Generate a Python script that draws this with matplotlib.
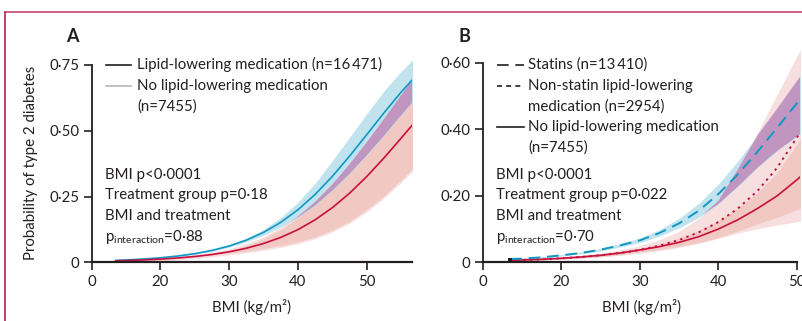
import numpy as np
import matplotlib
matplotlib.use("Agg")
import matplotlib.pyplot as plt
from matplotlib.lines import Line2D

plt.rcParams["font.family"] = ["Lato", "DejaVu Sans"]
plt.rcParams["mathtext.fontset"] = "custom"
plt.rcParams["mathtext.rm"] = "Lato"

# ---- data ----
# Panel A: lipid-lowering medication vs none
bmi_a = [13.5, 15, 17.5, 20, 22.5, 25, 27.5, 30, 32.5, 35, 37.5, 40,
         42.5, 45, 47.5, 50, 52.5, 55, 57.5]
lipid_a = [0.0073, 0.0089, 0.0124, 0.0172, 0.0238, 0.0329, 0.0452, 0.062,
           0.0843, 0.1138, 0.1517, 0.1996, 0.2579, 0.3263, 0.403, 0.4848,
           0.5673, 0.6463, 0.718]
lipid_a_hi = [0.0092, 0.0108, 0.0146, 0.0196, 0.0264, 0.0358, 0.0487, 0.0667,
              0.0912, 0.1249, 0.1697, 0.2284, 0.300, 0.386, 0.4743, 0.5644,
              0.6504, 0.7257, 0.790]
lipid_a_lo = [0.0057, 0.0070, 0.0102, 0.0148, 0.0212, 0.0300, 0.0417, 0.0573,
              0.0774, 0.1027, 0.1337, 0.1708, 0.2158, 0.272, 0.3356, 0.4059,
              0.4803, 0.558, 0.633]
none_a = [0.0055, 0.0066, 0.0089, 0.0121, 0.0163, 0.0220, 0.0297, 0.0400,
          0.0535, 0.0713, 0.0945, 0.1241, 0.1614, 0.2074, 0.2622, 0.3256,
          0.3960, 0.4713, 0.5477]
none_a_hi = [0.0070, 0.0084, 0.0111, 0.0149, 0.0199, 0.0266, 0.0357, 0.048,
             0.0675, 0.0933, 0.1285, 0.1741, 0.2294, 0.2954, 0.3722, 0.4556,
             0.5440, 0.6343, 0.7237]
none_a_lo = [0.0040, 0.0048, 0.0067, 0.0093, 0.0127, 0.0174, 0.0237, 0.032,
             0.0395, 0.0493, 0.0605, 0.0741, 0.0934, 0.1194, 0.1522, 0.1956,
             0.2480, 0.3083, 0.3717]

# Panel B: statins / non-statin / none
bmi_b = [13.5, 15, 17.5, 20, 22.5, 25, 27.5, 30, 32.5, 35, 37.5, 40,
         42.5, 45, 47.5, 50, 52.5]
statin_b = [0.010, 0.011, 0.015, 0.021, 0.028, 0.038, 0.051, 0.066, 0.088,
            0.117, 0.155, 0.205, 0.265, 0.333, 0.405, 0.478, 0.55]
statin_b_hi = [0.012, 0.013, 0.017, 0.023, 0.031, 0.042, 0.056, 0.073, 0.098,
               0.132, 0.177, 0.235, 0.305, 0.382, 0.462, 0.545, 0.625]
statin_b_lo = [0.008, 0.009, 0.013, 0.019, 0.025, 0.034, 0.046, 0.059, 0.079,
               0.103, 0.135, 0.175, 0.228, 0.285, 0.335, 0.378, 0.42]
nonstatin_b = [0.006, 0.007, 0.009, 0.012, 0.016, 0.021, 0.028, 0.037, 0.050,
               0.067, 0.090, 0.121, 0.162, 0.215, 0.285, 0.375, 0.46]
nonstatin_b_hi = [0.009, 0.010, 0.012, 0.016, 0.021, 0.028, 0.037, 0.050,
                  0.068, 0.093, 0.132, 0.185, 0.28, 0.39, 0.505, 0.62, 0.735]
nonstatin_b_lo = [0.004, 0.005, 0.007, 0.009, 0.012, 0.016, 0.021, 0.027,
                  0.035, 0.045, 0.057, 0.072, 0.088, 0.101, 0.112, 0.122, 0.13]
none_b = [0.006, 0.007, 0.009, 0.012, 0.016, 0.021, 0.028, 0.037, 0.047,
          0.060, 0.077, 0.100, 0.128, 0.162, 0.200, 0.248, 0.30]
none_b_hi = [0.0075, 0.0087, 0.011, 0.0145, 0.019, 0.025, 0.033, 0.043, 0.056,
             0.073, 0.096, 0.126, 0.163, 0.21, 0.27, 0.355, 0.44]
none_b_lo = [0.0045, 0.0054, 0.007, 0.0097, 0.013, 0.017, 0.023, 0.031, 0.039,
             0.048, 0.059, 0.075, 0.094, 0.116, 0.135, 0.158, 0.18]

xticks = [10, 20, 30, 40, 50]
xticklabels = ["0", "20", "30", "40", "50"]
yticks_a = [0, 0.25, 0.50, 0.75]
yticklabels_a = ["0", "0·25", "0·50", "0·75"]
yticks_b = [0, 0.20, 0.40, 0.60]
yticklabels_b = ["0", "0·20", "0·40", "0·60"]

# ---- colours ----
INK = "#231f20"
BLUE = "#1297c4"
RED = "#c8103f"
LBLUE = "#c0e3ee"
SALMON = "#f1c9c2"
LPINK = "#f7dfdf"
PURPLE = "#c096c0"
FRAME = "#c9476d"
FS = 10.8

W, H = 803, 321
fig = plt.figure(figsize=(W / 100, H / 100), dpi=100)


def fx(x):
    return x / W


def fy(y):
    return 1 - y / H


def style_axes(ax, yticks, ylabels, xmax):
    for s in ("top", "right"):
        ax.spines[s].set_visible(False)
    ax.spines["left"].set_linewidth(1.3)
    ax.spines["bottom"].set_linewidth(1.6)
    ax.spines["left"].set_color(INK)
    ax.spines["bottom"].set_color(INK)
    ax.spines["left"].set_bounds(yticks[0], yticks[-1])
    ax.spines["bottom"].set_bounds(10, xmax)
    ax.set_xticks(xticks)
    ax.set_xticklabels(xticklabels)
    ax.set_yticks(yticks)
    ax.set_yticklabels(ylabels)
    ax.tick_params(length=5.5, width=1.2, color=INK, labelsize=FS,
                   labelcolor=INK, pad=3.5)
    ax.set_facecolor("none")
    ax.set_xlabel("BMI (kg/m²)", fontsize=FS, color=INK, labelpad=7)


def overlap(ax, x, lo1, hi1, lo2, hi2, color):
    lo = np.maximum(lo1, lo2)
    hi = np.minimum(hi1, hi2)
    ax.fill_between(x, lo, hi, where=hi > lo, interpolate=True,
                    color=color, lw=0)


# ---- panel A ----
axA = fig.add_axes([fx(91.7), fy(262.3), fx(412) - fx(91.7),
                    (262.3 - 40) / H])
axA.set_xlim(10, 56.6)
axA.set_ylim(0, (262.3 - 40) / 263.1)
axA.fill_between(bmi_a, none_a_lo, none_a_hi, facecolor=SALMON,
                 edgecolor=LPINK, lw=1.3)
axA.fill_between(bmi_a, lipid_a_lo, lipid_a_hi, color=LBLUE, lw=0)
overlap(axA, np.array(bmi_a), np.array(lipid_a_lo), np.array(lipid_a_hi),
        np.array(none_a_lo), np.array(none_a_hi), PURPLE)
axA.plot(bmi_a, lipid_a, color=BLUE, lw=1.2)
axA.plot(bmi_a, none_a, color=RED, lw=1.2)
style_axes(axA, yticks_a, yticklabels_a, 56.6)
axA.set_ylabel("Probability of type 2 diabetes", fontsize=FS, color=INK)
axA.yaxis.set_label_coords((38 - 91.7) / 320.3, (262.3 - 163) / 222.3)

# ---- panel B ----
axB = fig.add_axes([fx(482.7), fy(262.3), fx(800) - fx(482.7),
                    (262.3 - 40) / H])
axB.set_xlim(10, 50.4)
axB.set_ylim(0, (262.3 - 40) / 332.5)
axB.fill_between(bmi_b, nonstatin_b_lo, nonstatin_b_hi, color=LPINK, lw=0)
axB.fill_between(bmi_b, none_b_lo, none_b_hi, color=SALMON, lw=0)
axB.fill_between(bmi_b, statin_b_lo, statin_b_hi, color=LBLUE, lw=0)
overlap(axB, np.array(bmi_b), np.array(statin_b_lo), np.array(statin_b_hi),
        np.array(nonstatin_b_lo), np.array(nonstatin_b_hi), PURPLE)
axB.plot(bmi_b, none_b, color=RED, lw=1.2)
axB.plot(bmi_b, nonstatin_b, color=RED, lw=1.4, dashes=(1.2, 2.2))
axB.plot(bmi_b, statin_b, color=BLUE, lw=1.4, dashes=(6, 3.5))
axB.plot(bmi_b[0], none_b[0], "s", color=INK, ms=3.2, mew=0)
style_axes(axB, yticks_b, yticklabels_b, 50)

# ---- panel letters ----
fig.text(fx(72.5), fy(36), "A", fontsize=13, fontweight="bold", color=INK,
         ha="center", va="center")
fig.text(fx(464.5), fy(36), "B", fontsize=13, fontweight="bold", color=INK,
         ha="center", va="center")


def key(x0, x1, y, **kw):
    fig.add_artist(Line2D([fx(x0), fx(x1)], [fy(y), fy(y)], lw=1.2, **kw))


def label(x, y, s):
    fig.text(fx(x), fy(y), s, fontsize=FS, color=INK, ha="left",
             va="center")


# legend A
key(106, 131, 64.7, color=INK)
key(106, 131, 86, color="#b5b5b5")
label(137, 64.7, "Lipid-lowering medication (n=16\u2009471)")
label(137, 86, "No lipid-lowering medication")
label(137, 106.5, "(n=7455)")

# legend B
key(497, 524, 64.7, color=INK, dashes=(7, 4))
key(497, 524, 86, color=INK, dashes=(3, 2.5))
key(497, 524, 127, color=INK)
label(528, 64.7, "Statins (n=13\u2009410)")
label(528, 86, "Non-statin lipid-lowering")
label(528, 106.5, "medication (n=2954)")
label(528, 127, "No lipid-lowering medication")
label(528, 147.5, "(n=7455)")

# statistics text
stats_a = ["BMI p<0·0001", "Treatment group p=0·18", "BMI and treatment",
           "p$_{\\mathregular{interaction}}$=0·88"]
stats_b = ["BMI p<0·0001", "Treatment group p=0·022", "BMI and treatment",
           "p$_{\\mathregular{interaction}}$=0·70"]
for i, (sa, sb) in enumerate(zip(stats_a, stats_b)):
    y = 175 + i * 20.5
    label(105, y, sa)
    label(496.5, y, sb)

# frame
fig.add_artist(Line2D([fx(5), 1], [fy(12), fy(12)], color=FRAME, lw=1.2))
fig.add_artist(Line2D([fx(5), fx(5)], [fy(12), 0], color="#b8234f", lw=1.2))

fig.savefig("out.png", dpi=100)
